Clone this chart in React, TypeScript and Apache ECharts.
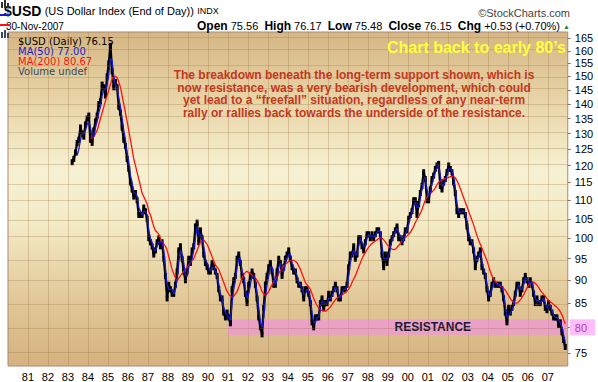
import React, { useEffect, useRef } from 'react';
import * as echarts from 'echarts';

// ---------- data ----------
const priceStart = [1983, 3]; // first month of the close series
const priceCloses = [
  121, 122, 124, 127, 128, 132, 130, 129, 133, 135,
  136, 128, 127, 131, 134, 136, 140, 141, 147, 146, 143, 150,
  155, 162, 152, 146, 148, 146, 139, 137, 132, 128, 126, 122,
  119, 115, 113, 111, 112, 110, 106, 106, 106, 108, 107, 105,
  100, 99, 98, 96, 97, 99, 100, 98, 99, 95, 91, 86,
  89, 88, 87, 87, 89, 92, 97, 98, 95, 92, 90, 92,
  95, 94, 97, 98, 103, 104, 99, 102, 100, 96, 94, 93,
  92, 92, 94, 93, 92, 91, 88, 86, 86, 83, 82, 83,
  82, 80.8, 88, 90, 91, 95, 96, 94, 91, 90, 87, 85,
  89, 91, 92, 91, 89, 86, 82, 80, 78.6, 84, 89, 91,
  93, 94, 92, 89, 89, 92, 95, 94, 91, 93, 95, 96,
  97, 95, 93, 92, 92, 90, 89, 89, 88, 86, 88, 88,
  87, 85, 81, 80, 82, 82, 82, 85, 86, 84, 85, 85,
  87, 86, 87, 88, 89, 88, 86, 86, 88, 88, 88, 89,
  93, 96, 96, 98, 95, 96, 100, 100, 98, 97, 99, 101,
  101, 100, 101, 100, 101, 102, 102, 101, 96, 93, 96, 94,
  96, 99, 100, 101, 102, 103, 100, 100, 99, 100, 102, 102,
  105, 106, 107, 110, 110, 106, 109, 112, 114, 118, 116, 110,
  110, 113, 116, 117, 119, 120, 120.5, 114, 113, 115, 116, 118,
  120, 119, 118, 115, 112, 107, 106, 107, 107, 107, 106, 103,
  100, 99, 99, 97, 93, 95, 96, 97, 93, 92, 91, 88,
  86, 87, 89, 90, 89, 89, 89, 89, 88, 86, 83, 81,
  84, 83, 84, 85, 87, 89, 89, 87, 88, 90, 91, 90,
  89, 90, 89, 87, 85, 86, 85, 85, 86, 86, 84, 83.5,
  85, 84, 83, 82, 82, 82, 80.5, 81, 79, 77.5, 76.15,
];

const ma50Start = [1983, 6];
const ma50Values = [
  123, 125, 128, 130, 130, 131, 133,
  134, 132, 129, 129, 132, 134, 137, 139, 143, 145, 145, 147,
  151, 157, 156, 150, 147, 146, 142, 139, 135, 131, 128, 124,
  121, 117, 115, 112, 112, 111, 108, 107, 106, 107, 107, 106,
  102, 100, 99, 97, 97, 98, 99, 99, 99, 97, 93, 89,
  88, 88, 88, 87, 88, 90, 94, 97, 96, 94, 91, 91,
  93, 94, 95, 97, 100, 103, 101, 101, 100, 98, 95, 94,
  93, 92, 93, 93, 92, 91, 89, 87, 86, 84, 83, 82.5,
  82, 81.5, 85, 88, 90, 93, 95, 95, 92, 91, 88, 86,
  87, 89, 91, 91, 90, 87, 84, 81, 80, 82, 86, 89,
  91, 93, 93, 91, 89, 90, 93, 94, 92, 92, 94, 95,
  96, 96, 94, 93, 92, 91, 89.5, 89, 88, 87, 87, 88,
  87.5, 86, 83, 81, 81, 82, 82, 84, 85.5, 85, 85, 85,
  86, 86, 86.5, 87.5, 88.5, 88, 87, 86, 87, 88, 88, 88.5,
  91, 94, 96, 97, 96, 96, 98, 100, 99, 98, 98, 100,
  101, 100.5, 100.5, 100.5, 100.5, 101.5, 102, 101.5, 98, 95, 95, 95,
  95.5, 97.5, 99.5, 100.5, 101.5, 102.5, 101.5, 100.5, 99.5, 99.5, 101, 102,
  103.5, 105.5, 106.5, 108.5, 109.5, 108, 108, 110.5, 113, 116, 116.5, 113,
  111, 112, 114.5, 116.5, 118, 119.5, 120, 117, 114, 114, 115.5, 117,
  119, 119, 118.5, 116.5, 113.5, 109, 107, 106.5, 107, 107, 106.5, 104.5,
  101.5, 100, 99, 98, 95, 94.5, 95.5, 96.5, 94.5, 92.5, 91.5, 89,
  87, 86.5, 88, 89.5, 89.5, 89, 89, 89, 88.5, 87, 84.5, 82,
  82.5, 83, 83.5, 84.5, 86, 88, 89, 88, 88, 89, 90.5, 90.5,
  89.5, 89.5, 89.5, 88, 86, 85.5, 85.5, 85, 85.5, 86, 85, 84,
  84.5, 84.5, 83.5, 82.5, 82, 82, 81.5, 81, 80, 78.5, 77,
];

const ma200Start = [1984, 2];
const ma200Values = [
  128.5, 128.5, 129, 130, 131, 133, 135, 137, 139, 141, 143,
  145, 147, 149, 150, 150, 149.5, 148, 146, 143, 140, 137, 134,
  131, 128, 125, 122, 120, 118, 116, 114, 112, 111, 110, 109,
  107, 106, 104.5, 103, 102, 101.5, 101, 100, 99, 98.5, 98, 97,
  95.5, 94, 92.5, 91.5, 90.5, 90, 90.5, 91, 91.5, 92, 92.5, 93,
  93.5, 94, 94.5, 95, 96, 97, 98, 99, 99.5, 99.5, 99, 98.5,
  97.5, 96.5, 95.5, 94.5, 93.5, 93, 92.5, 91.5, 90.5, 89.5, 88.5, 87.5,
  87, 86.5, 86.3, 86.5, 87, 87.5, 88.5, 89.5, 90.5, 91.3, 91.8, 92,
  91.8, 91.5, 91.2, 91, 90.5, 90, 89.3, 88.5, 87.5, 87, 86.7, 87,
  87.5, 88.3, 89, 89.7, 90.2, 90.8, 91.5, 92.2, 92.8, 93.3, 93.7, 94,
  94.3, 94.5, 94.6, 94.6, 94.4, 94, 93.3, 92.5, 91.5, 90.5, 89.5, 89,
  88.5, 88, 87, 86, 85.2, 84.5, 84, 83.6, 83.4, 83.3, 83.3, 83.5,
  83.8, 84.2, 84.7, 85.2, 85.7, 86.1, 86.3, 86.5, 86.8, 87, 87.3, 87.6,
  88, 88.7, 89.5, 90.3, 91, 92, 93, 94, 95, 95.8, 96.5, 97.2,
  97.8, 98.3, 98.7, 99, 99.3, 99.6, 99.9, 100.1, 100, 99.6, 99.1, 98.5,
  98, 97.6, 97.3, 97.2, 97.3, 97.7, 98.2, 98.8, 99.3, 99.8, 100.2, 100.6,
  101, 101.5, 102.2, 103, 104, 104.8, 105.6, 106.5, 107.5, 108.8, 110, 110.8,
  111.3, 111.8, 112.3, 112.8, 113.5, 114.3, 115, 115.5, 115.8, 116, 116.2, 116.3,
  116.5, 116.7, 116.8, 116.7, 116.3, 115.5, 114.5, 113.3, 112, 110.7, 109.5, 108.3,
  107, 105.8, 104.6, 103.4, 102, 100.7, 99.5, 98.5, 97.5, 96.5, 95.5, 94.5,
  93.3, 92, 91, 90.3, 89.8, 89.4, 89, 88.7, 88.5, 88.2, 87.8, 87.2,
  86.6, 86, 85.5, 85.2, 85, 85, 85.3, 85.7, 86.2, 86.8, 87.5, 88.3,
  88.9, 89.3, 89.6, 89.6, 89.3, 88.9, 88.4, 87.8, 87.3, 86.9, 86.5, 86,
  85.6, 85.3, 85, 84.7, 84.4, 84.1, 83.7, 83.2, 82.5, 81.6, 80.67,
];

const yTicks = [75, 80, 85, 90, 95, 100, 105, 110, 115, 120, 125, 130, 135, 140, 145, 150, 155, 160, 165];
const yRange = [72.6, 167.7];
const xRange = [1980, 2008];
const resistance = { fromYear: 1991, low: 78.5, high: 81.6, label: 'RESISTANCE', tick: 80 };

const titleSymbol = '$USD';
const titleName = '(US Dollar Index (End of Day))';
const titleExchange = 'INDX';
const dateText = '30-Nov-2007';
const quote = { open: '75.56', high: '76.17', low: '75.48', close: '76.15', chg: '+0.53 (+0.70%)' };
const legendRows = ['$USD (Daily) 76.15', 'MA(50) 77.00', 'MA(200) 80.67', 'Volume undef'];
const noteLines = [
  'The breakdown beneath the long-term support shown, which is',
  'now resistance, was a very bearish development, which could',
  'yet lead to a \u201Cfreefall\u201D situation, regardless of any near-term',
  'rally or rallies back towards the underside of the resistance.',
];
const cornerNote = 'Chart back to early 80\u2019s';

// ---------- helpers ----------
const toSeries = (start: number[], vals: number[]) =>
  vals.map((v, i) => [start[0] + (start[1] - 1 + i + 0.5) / 12, Math.log(v)]);

const FONT = "'Liberation Sans', Arial, sans-serif";
const LFONT = "'DejaVu Sans', Verdana, sans-serif";

export default function App() {
  const ref = useRef<HTMLDivElement>(null);

  useEffect(() => {
    if (!ref.current) return;
    const chart = echarts.init(ref.current, undefined, { renderer: 'svg' });
    const gridColor = 'rgba(150,112,62,0.28)';
    const bg = new echarts.graphic.LinearGradient(0, 0, 0, 1, [
      { offset: 0, color: '#d6b684' },
      { offset: 0.18, color: '#e6d1a3' },
      { offset: 0.42, color: '#f7f1d3' },
      { offset: 0.58, color: '#f3eac6' },
      { offset: 0.8, color: '#e2c898' },
      { offset: 1, color: '#d4b280' },
    ]);

    const option: any = {
      animation: false,
      textStyle: { fontFamily: FONT },
      grid: {
        left: 8, right: 28, top: 32, bottom: 16,
        show: true, backgroundColor: bg, borderColor: '#a88a78', borderWidth: 1,
        containLabel: false,
      },
      xAxis: {
        type: 'value', min: xRange[0], max: xRange[1], interval: 1,
        axisLine: { show: false }, axisTick: { show: false },
        splitLine: { show: true, showMinLine: false, showMaxLine: false, lineStyle: { color: gridColor, width: 1 } },
        axisLabel: {
          margin: 5, fontSize: 11, color: '#000', fontFamily: FONT,
          formatter: (v: number) => (v <= 1980 || v >= 2008 ? '' : String(v % 100).padStart(2, '0')),
        },
      },
      yAxis: {
        type: 'value', position: 'right', min: Math.log(yRange[0]), max: Math.log(yRange[1]),
        splitLine: { show: false },
        axisLine: { show: false },
        axisTick: { show: true, length: 3, customValues: yTicks.map((v) => Math.log(v)), lineStyle: { color: '#8a7060' } },
        axisLabel: {
          margin: 2, fontSize: 11, color: '#000', fontFamily: FONT,
          customValues: yTicks.map((v) => Math.log(v)),
          formatter: (v: number) => {
            const n = Math.round(Math.exp(v));
            return n === resistance.tick ? '{hl|' + n + '}' : '{n|' + n + '}';
          },
          rich: {
            n: { padding: [0, 0, 0, 5], fontSize: 11, color: '#000', fontFamily: FONT },
            hl: { padding: [3, 8, 2, 5], fontSize: 11, color: '#b03cb0', backgroundColor: '#ffbdfc', fontFamily: FONT },
          },
        },
      },
      series: [
        {
          type: 'line', data: [], z: 1, silent: true,
          markLine: {
            silent: true, symbol: ['none', 'none'], label: { show: false },
            lineStyle: { color: gridColor, type: 'solid', width: 1 },
            data: yTicks.map((v) => ({ yAxis: Math.log(v) })),
          },
        },
        {
          name: 'price', type: 'line', data: toSeries(priceStart, priceCloses), z: 3,
          showSymbol: true, symbol: 'rect', symbolSize: [3, 6], itemStyle: { color: '#000' },
          lineStyle: { color: '#000', width: 2.3 },
        },
        {
          name: 'ma200', type: 'line', data: toSeries(ma200Start, ma200Values), z: 4,
          showSymbol: false, smooth: 0.3, lineStyle: { color: '#ff1010', width: 1.3 },
        },
        {
          name: 'ma50', type: 'line', data: toSeries(ma50Start, ma50Values), z: 5,
          showSymbol: false, lineStyle: { color: '#1818c8', width: 1.3 },
        },
        {
          type: 'line', data: [], z: 8, silent: true,
          markArea: {
            silent: true,
            itemStyle: { color: 'rgba(245,140,235,0.6)' },
            label: {
              show: true, position: 'inside', offset: [35, 0], color: '#1a1a3a',
              fontSize: 12, fontWeight: 'bold', fontFamily: FONT, formatter: resistance.label,
            },
            data: [[
              { xAxis: resistance.fromYear, yAxis: Math.log(resistance.low) },
              { xAxis: xRange[1], yAxis: Math.log(resistance.high) },
            ]],
          },
        },
      ],
      graphic: [
        {
          type: 'text', x: 4, y: 11,
          style: {
            text: '{b|' + titleSymbol + '} {n|' + titleName + '} {s|' + titleExchange + '}',
            verticalAlign: 'middle', fontFamily: FONT,
            rich: {
              b: { fontSize: 14, fontWeight: 'bold', fill: '#000', fontFamily: FONT },
              n: { fontSize: 11, fill: '#000', fontFamily: FONT },
              s: { fontSize: 9, fill: '#000', fontFamily: FONT },
            },
          },
        },
        {
          type: 'text', x: 570, y: 13,
          style: { text: '\u00A9StockCharts.com', align: 'right', verticalAlign: 'middle', fontSize: 11, fill: '#444', fontFamily: FONT },
        },
        {
          type: 'text', x: 6, y: 26,
          style: { text: dateText, verticalAlign: 'middle', fontSize: 10, fill: '#000', fontFamily: FONT },
        },
        {
          type: 'text', x: 570, y: 26,
          style: {
            text: '{b|Open} ' + quote.open + '  {b|High} ' + quote.high + '  {b|Low} ' + quote.low +
              '  {b|Close} ' + quote.close + '  {b|Chg} ' + quote.chg + ' {g|\u25B2}',
            align: 'right', verticalAlign: 'middle', fontSize: 11, fill: '#000', fontFamily: FONT,
            rich: {
              b: { fontSize: 12, fontWeight: 'bold', fill: '#000', fontFamily: FONT },
              g: { fontSize: 7, fill: '#2a8a2a', fontFamily: FONT },
            },
          },
        },
        // legend icons
        {
          type: 'group', left: 0, top: 0,
          children: [
            { type: 'rect', shape: { x: 7, y: 38, width: 2, height: 6 }, style: { fill: '#333' } },
            { type: 'rect', shape: { x: 10, y: 36, width: 2, height: 8 }, style: { fill: '#333' } },
            { type: 'rect', shape: { x: 13, y: 39, width: 2, height: 5 }, style: { fill: '#333' } },
            { type: 'rect', shape: { x: 6, y: 50, width: 10, height: 2 }, style: { fill: '#1818c8' } },
            { type: 'rect', shape: { x: 6, y: 60, width: 10, height: 2 }, style: { fill: '#ff1010' } },
            { type: 'rect', shape: { x: 7, y: 68, width: 2, height: 6 }, style: { fill: '#3a4a66' } },
            { type: 'rect', shape: { x: 10, y: 66, width: 2, height: 8 }, style: { fill: '#3a4a66' } },
            { type: 'rect', shape: { x: 13, y: 69, width: 2, height: 5 }, style: { fill: '#3a4a66' } },
          ],
        },
        { type: 'text', x: 18, y: 41, style: { text: legendRows[0], verticalAlign: 'middle', fontSize: 10, fill: '#000', fontFamily: LFONT } },
        { type: 'text', x: 18, y: 51, style: { text: legendRows[1], verticalAlign: 'middle', fontSize: 10, fill: '#1818c8', fontFamily: LFONT } },
        { type: 'text', x: 18, y: 61, style: { text: legendRows[2], verticalAlign: 'middle', fontSize: 10, fill: '#ff1010', fontFamily: LFONT } },
        { type: 'text', x: 18, y: 71, style: { text: legendRows[3], verticalAlign: 'middle', fontSize: 10, fill: '#3a4a66', fontFamily: LFONT } },
        {
          type: 'text', x: 354, y: 69, z: 20,
          style: {
            text: noteLines.join('\n'), align: 'center', verticalAlign: 'top', lineHeight: 12.5,
            fontSize: 12, fontWeight: 'bold', fill: '#c4381c', fontFamily: FONT,
          },
        },
        {
          type: 'text', x: 566, y: 47, z: 20,
          style: { text: cornerNote, align: 'right', verticalAlign: 'middle', fontSize: 16, fontWeight: 'bold', fill: '#ffff3a', fontFamily: FONT },
        },
      ],
    };
    chart.setOption(option);
    return () => chart.dispose();
  }, []);

  return <div ref={ref} style={{ position: 'absolute', left: 0, top: 0, width: 598, height: 382 }} />;
}
